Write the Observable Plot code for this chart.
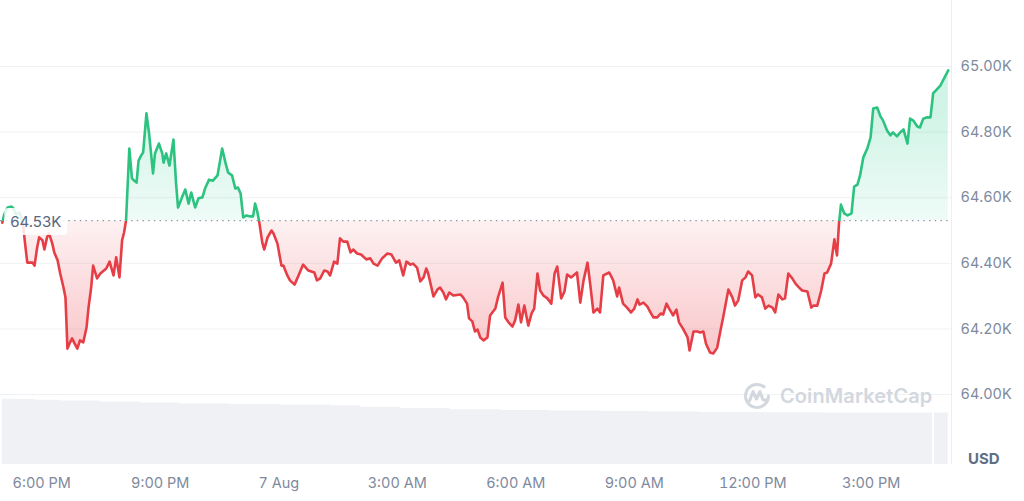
<!DOCTYPE html>
<html><head><meta charset="utf-8">
<script src="https://cdn.jsdelivr.net/npm/d3@7"></script>
<script src="https://cdn.jsdelivr.net/npm/@observablehq/plot@0.6"></script>
<style>
html,body{margin:0;padding:0;background:#fff;}
#wrap{position:relative;width:1024px;height:501px;overflow:hidden;font-family:Inter,"Noto Sans",sans-serif;}
#wrap > svg, #wrap > div{position:absolute;left:0;top:0;}
#usd{left:968px !important;top:449px !important;font-size:15px;font-weight:700;color:#616e85;}
#wm{left:742px !important;top:381px !important;display:flex;align-items:center;gap:8px;color:#d3d7de;font-size:20px;font-weight:600;letter-spacing:0.1px;}
</style></head><body><div id="wrap"></div>
<script>
// ---- data ----
const startTime = "2024-08-06T17:00:00";
const xDomainStart = "2024-08-06T16:57:18";
const xDomainEnd = "2024-08-07T17:01:54";
const baseline = 64530;
const minutesSinceStart = [
0,3,8,14,17,21,26,29,32,35,
38,46,49,53,56,61,64,68,71,76,
79,84,88,93,96,99,103,106,109,114,
118,123,128,131,135,138,144,149,158,163,
169,173,178,182,185,188,193,197,199,204,
207,211,214,219,223,229,232,238,243,245,
249,254,260,264,267,273,278,283,287,293,
298,304,308,314,320,327,334,339,343,349,
354,358,362,366,371,377,381,384,387,390,
395,398,403,409,412,418,424,427,433,437,
444,450,457,465,474,478,483,489,494,498,
504,509,513,518,524,529,533,539,545,553,
559,564,570,577,585,591,598,603,609,614,
620,624,630,635,640,644,647,655,661,665,
670,674,679,685,696,700,706,709,714,718,
722,726,731,737,741,749,753,760,764,769,
775,779,784,788,793,799,804,808,813,817,
822,828,834,839,843,849,854,858,864,873,
878,883,889,893,898,904,908,913,922,928,
934,937,943,949,955,960,965,968,974,980,
984,989,995,1000,1004,1009,1013,1019,1024,1028,
1034,1041,1044,1050,1056,1060,1065,1069,1075,1080,
1086,1091,1095,1103,1109,1113,1118,1124,1129,1133,
1139,1144,1148,1154,1159,1164,1170,1174,1179,1185,
1189,1194,1200,1205,1209,1215,1223,1229,1232,1238,
1244,1249,1253,1259,1264,1268,1271,1274,1279,1284,
1290,1294,1299,1303,1308,1314,1319,1323,1329,1334,
1338,1344,1349,1353,1359,1364,1369,1375,1379,1384,
1390,1394,1399,1405,1410,1414,1425,1437];
const prices = [
64524,64549,64570,64573,64567,64549,64555,64537,64509,64454,
64402,64402,64393,64448,64479,64470,64442,64479,64491,64460,
64433,64409,64369,64326,64296,64140,64159,64171,64159,64140,
64165,64159,64204,64265,64326,64393,64354,64369,64384,64405,
64363,64418,64357,64470,64494,64530,64750,64659,64655,64646,
64713,64729,64738,64857,64796,64674,64735,64765,64735,64707,
64735,64698,64777,64643,64570,64601,64625,64582,64616,64570,
64598,64601,64628,64655,64652,64668,64750,64707,64677,64668,
64628,64631,64613,64540,64546,64543,64543,64582,64561,64530,
64463,64442,64479,64500,64491,64460,64393,64393,64363,64348,
64335,64363,64396,64378,64372,64348,64354,64378,64375,64363,
64405,64399,64476,64466,64466,64433,64442,64430,64427,64412,
64415,64399,64393,64415,64430,64427,64402,64409,64363,64405,
64396,64399,64387,64345,64357,64384,64369,64299,64320,64326,
64311,64290,64311,64302,64305,64296,64277,64232,64223,64192,
64198,64174,64165,64174,64241,64262,64296,64341,64235,64220,
64207,64226,64274,64220,64271,64210,64247,64262,64369,64317,
64302,64293,64277,64369,64390,64293,64314,64366,64357,64372,
64280,64348,64402,64338,64250,64262,64250,64363,64372,64348,
64299,64326,64277,64265,64250,64262,64290,64274,64280,64268,
64253,64235,64235,64247,64244,64277,64262,64241,64259,64220,
64201,64174,64134,64192,64192,64189,64192,64155,64128,64125,
64143,64195,64235,64320,64296,64271,64287,64348,64357,64375,
64363,64296,64305,64296,64262,64271,64265,64250,64305,64290,
64293,64369,64354,64338,64329,64317,64314,64265,64271,64271,
64317,64369,64372,64399,64473,64424,64521,64579,64552,64546,
64552,64634,64640,64668,64723,64750,64784,64872,64875,64848,
64835,64805,64790,64799,64787,64799,64808,64765,64841,64835,
64817,64814,64841,64845,64845,64918,64942,64988];
const volMinutes = [0,27,50,88,149,210,270,346,422,498,544,605,680,756,832,908,984,1060,1151,1243,1334,1411,1413,1416,1437];
const volumesB = [32.6,32.5,32.1,31.8,31.2,30.8,30.3,30.0,29.7,29.4,28.6,28.0,27.4,27.0,26.8,26.5,26.3,26.0,25.9,25.8,25.8,25.7,null,25.7,25.7];
const yTicks = [64000,64200,64400,64600,64800,65000];
const yDomain = [63786.6,65201.2];
const volDomain = [0,33];
const xTickTimes = ["2024-08-06T18:00:00","2024-08-06T21:00:00","2024-08-07T00:00:00","2024-08-07T03:00:00","2024-08-07T06:00:00","2024-08-07T09:00:00","2024-08-07T12:00:00","2024-08-07T15:00:00"];
const xTickLabels = ["6:00 PM","9:00 PM","7 Aug","3:00 AM","6:00 AM","9:00 AM","12:00 PM","3:00 PM"];
const GREEN = "#2cc27f", RED = "#e63e47";

// ---- build ----
const t0 = new Date(startTime).getTime();
const data = minutesSinceStart.map((m,i)=>({date:new Date(t0+m*60000), price:prices[i]}));
const vdata = volMinutes.map((m,i)=>({date:new Date(t0+m*60000), volume:volumesB[i]}));
const xDomain = [new Date(xDomainStart), new Date(xDomainEnd)];
const xTickDates = xTickTimes.map(s=>new Date(s));
const labelByTime = new Map(xTickDates.map((d,i)=>[+d, xTickLabels[i]]));
const fmtK = d => (d/1000).toFixed(2)+"K";
const wrap = document.getElementById("wrap");

const vol = Plot.plot({
  width:1024, height:501, marginLeft:0, marginRight:73, marginTop:398, marginBottom:37,
  style:{background:"transparent"},
  x:{type:"time", domain:xDomain, axis:null},
  y:{domain:volDomain, axis:null},
  marks:[
    Plot.areaY(vdata,{x:"date", y:"volume", fill:"#eff1f4", curve:"step-after"})
  ]
});
wrap.appendChild(vol);

const chart = Plot.plot({
  width:1024, height:501, marginLeft:0, marginRight:73, marginTop:0, marginBottom:37,
  style:{background:"transparent", fontFamily:"Inter, 'Noto Sans', sans-serif", fontSize:"14.5px", color:"#808a9d", overflow:"visible"},
  x:{type:"time", domain:xDomain, axis:null, label:null},
  y:{domain:yDomain, axis:null, label:null},
  marks:[
    Plot.gridY(yTicks,{stroke:"#eff2f5", strokeOpacity:1}),
    Plot.ruleX([xDomain[1]],{stroke:"#eceef2"}),
    Plot.areaY(data,{x:"date", y1:()=>baseline, y2:"price", fill:"url(#fillGrad)"}),
    Plot.ruleY([baseline],{stroke:"#8d96a6", strokeDasharray:"1.4,4.3", strokeWidth:1.2}),
    Plot.lineY(data,{x:"date", y:"price", stroke:"url(#lineGrad)", strokeWidth:2.6, strokeLinejoin:"round", strokeLinecap:"round"}),
    Plot.axisY(yTicks,{anchor:"right", tickSize:0, tickPadding:9, tickFormat:fmtK, label:null, fill:"#808a9d"}),
    Plot.axisX(xTickDates,{tickSize:0, tickPadding:13, tickFormat:d=>labelByTime.get(+d), label:null, fill:"#808a9d"}),
    Plot.text([baseline],{x:()=>data[0].date, y:d=>d, text:fmtK, textAnchor:"start", dx:8, dy:1.5, fill:"#58667e", fontSize:15})
  ]
});
wrap.appendChild(chart);

// gradients positioned via the y scale
const ys = chart.scale("y");
const H = 501;
const yb = ys.apply(baseline)/H, yt = ys.apply(64870)/H, ybot = ys.apply(64130)/H;
const defs = d3.select(chart).insert("defs", ":first-child");
const lg = defs.append("linearGradient").attr("id","lineGrad").attr("gradientUnits","userSpaceOnUse")
  .attr("x1",0).attr("y1",0).attr("x2",0).attr("y2",H);
[[0,GREEN],[yb,GREEN],[yb,RED],[1,RED]].forEach(([o,c])=>lg.append("stop").attr("offset",o).attr("stop-color",c));
const fg = defs.append("linearGradient").attr("id","fillGrad").attr("gradientUnits","userSpaceOnUse")
  .attr("x1",0).attr("y1",0).attr("x2",0).attr("y2",H);
[[0,"#16c784",0.22],[yt,"#16c784",0.2],[yb,"#16c784",0.07],[yb,"#ea3943",0.07],[ybot,"#ea3943",0.28],[1,"#ea3943",0.3]]
  .forEach(([o,c,a])=>fg.append("stop").attr("offset",o).attr("stop-color",c).attr("stop-opacity",a));

// box behind the baseline label
const tg = d3.select(chart).selectAll('g[aria-label="text"]').nodes().pop();
if (tg) {
  const bb = tg.getBBox();
  d3.select(tg).insert("rect", ":first-child")
    .attr("x", bb.x-6).attr("y", bb.y-4).attr("width", bb.width+12).attr("height", bb.height+8)
    .attr("rx",4).attr("fill","#fff").attr("fill-opacity",0.85);
}

// USD label
const usd = document.createElement("div");
usd.id = "usd"; usd.textContent = "USD";
wrap.appendChild(usd);

// watermark
const wm = document.createElement("div");
wm.id = "wm";
wm.innerHTML = '<svg width="30" height="30" viewBox="0 0 30 30"><path d="M26.5,15 A11.5,11.5 0 1 1 22,5.8" fill="none" stroke="#d3d7de" stroke-width="3" stroke-linecap="round"/><path d="M7.5,20 L11,10.5 L14.5,18 L18,10.5 L20.5,17.5 Q22,20.5 25,18.5" fill="none" stroke="#d3d7de" stroke-width="3" stroke-linejoin="round" stroke-linecap="round"/></svg><span>CoinMarketCap</span>';
wrap.appendChild(wm);
</script></body></html>
